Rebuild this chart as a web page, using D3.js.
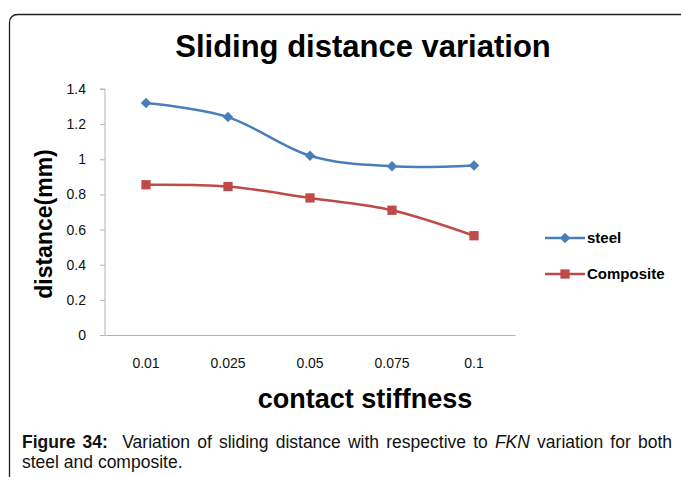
<!DOCTYPE html>
<html>
<head>
<meta charset="utf-8">
<script src="https://cdn.jsdelivr.net/npm/d3@7"></script>
<style>
  body { margin: 0; background: #fff; }
  svg { display: block; font-family: "Liberation Sans", Arial, sans-serif; }
</style>
</head>
<body>
<div id="chart"></div>
<script>
// data
var categories = ["0.01", "0.025", "0.05", "0.075", "0.1"];
var steel = [1.32, 1.24, 1.02, 0.96, 0.965];
var composite = [0.855, 0.845, 0.78, 0.71, 0.565];
var yTicks = [0, 0.2, 0.4, 0.6, 0.8, 1, 1.2, 1.4];

var W = 681, H = 477;
var svg = d3.select("#chart").append("svg")
    .attr("width", W).attr("height", H);

// frame around the figure (open on right and bottom)
svg.append("path")
    .attr("d", "M9.5," + (H + 2) + " L9.5,23 Q9.5,14.5 18,14.5 L" + (W + 2) + ",14.5")
    .attr("fill", "none").attr("stroke", "#222").attr("stroke-width", 1.3);

// plot area
var plotLeft = 105, plotRight = 515, plotTop = 89, plotBottom = 335;

var x = d3.scaleBand().domain(categories).range([plotLeft, plotRight]);
var y = d3.scaleLinear().domain([0, 1.4]).range([plotBottom, plotTop]);

// title
svg.append("text")
    .attr("x", 363).attr("y", 57)
    .attr("text-anchor", "middle")
    .style("font-size", "31px").style("font-weight", "bold")
    .text("Sliding distance variation");

// y axis
var yAxis = svg.append("g")
    .attr("transform", "translate(" + plotLeft + ",0)")
    .call(d3.axisLeft(y).tickValues(yTicks).tickSize(5).tickPadding(14)
        .tickFormat(function (d) { return d3.format("~g")(d); }));
yAxis.select(".domain").attr("stroke", "#b4b4b4").attr("d", "M-5," + plotTop + "H0V" + plotBottom);
yAxis.selectAll(".tick line").attr("stroke", "#b4b4b4");
yAxis.selectAll(".tick text").style("font-size", "14px").attr("fill", "#111");

// x axis
var xAxis = svg.append("g")
    .attr("transform", "translate(0," + plotBottom + ")")
    .call(d3.axisBottom(x).tickSize(0).tickPadding(23));
xAxis.select(".domain").attr("stroke", "#b4b4b4");
xAxis.selectAll(".tick text").style("font-size", "14px").attr("fill", "#111");

// axis labels
svg.append("text")
    .attr("transform", "translate(52,224) rotate(-90)")
    .attr("text-anchor", "middle")
    .style("font-size", "23px").style("font-weight", "bold")
    .text("distance(mm)");

svg.append("text")
    .attr("x", 365).attr("y", 408)
    .attr("text-anchor", "middle")
    .style("font-size", "27px").style("font-weight", "bold")
    .text("contact stiffness");

// lines
var line = d3.line()
    .x(function (d, i) { return x(categories[i]) + x.bandwidth() / 2; })
    .y(function (d) { return y(d); })
    .curve(d3.curveCardinal.tension(0));

var series = [
    { name: "steel", values: steel, color: "#4a7ebb", marker: "diamond" },
    { name: "Composite", values: composite, color: "#be4b48", marker: "square" }
];

function marker(type) {
    return d3.symbol().type(type === "diamond" ? d3.symbolDiamond2 : d3.symbolSquare2)
        .size(type === "diamond" ? 70 : 110);
}

series.forEach(function (s) {
    svg.append("path")
        .datum(s.values)
        .attr("fill", "none")
        .attr("stroke", s.color)
        .attr("stroke-width", 2.5)
        .attr("d", line);

    svg.selectAll(".m-" + s.marker)
        .data(s.values)
        .enter()
        .append("path")
        .attr("class", "m-" + s.marker)
        .attr("transform", function (d, i) {
            return "translate(" + (x(categories[i]) + x.bandwidth() / 2) + "," + y(d) + ")";
        })
        .attr("d", marker(s.marker))
        .attr("fill", s.color);
});

// legend
var legend = svg.append("g");
var legendY = [238, 274];
series.forEach(function (s, i) {
    var g = legend.append("g").attr("transform", "translate(0," + legendY[i] + ")");
    g.append("line")
        .attr("x1", 545).attr("x2", 585)
        .attr("stroke", s.color).attr("stroke-width", 2.5);
    g.append("path")
        .attr("transform", "translate(565,0)")
        .attr("d", marker(s.marker))
        .attr("fill", s.color);
    g.append("text")
        .attr("x", 587).attr("y", 5)
        .style("font-size", "15px").style("font-weight", "bold")
        .text(s.name);
});

// caption (first line justified to the frame width)
var cap = svg.append("text").attr("x", 22).attr("y", 448)
    .style("font-size", "17.5px").attr("fill", "#111");
cap.append("tspan").style("font-weight", "bold").text("Figure 34:");
cap.append("tspan").text("\u00a0 Variation of sliding distance with respective to ");
cap.append("tspan").style("font-style", "italic").text("FKN");
cap.append("tspan").text(" variation for both");
var capLen = cap.node().getComputedTextLength();
var gaps = 13;
if (capLen < 650) cap.style("word-spacing", ((650 - capLen) / gaps) + "px");

svg.append("text").attr("x", 22).attr("y", 468)
    .style("font-size", "17.5px").attr("fill", "#111")
    .text("steel and composite.");
</script>
</body>
</html>
